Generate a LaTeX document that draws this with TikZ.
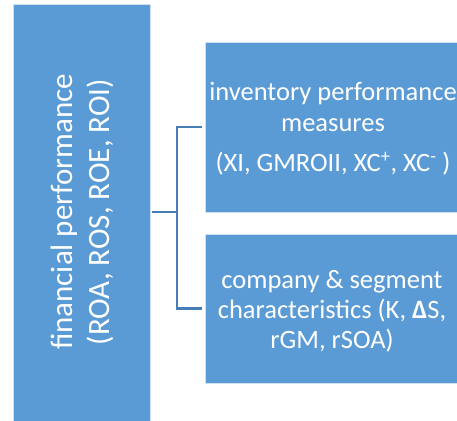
\documentclass[tikz,border=0pt]{standalone}
\usepackage{fontspec}
\setmainfont{Carlito}
\definecolor{boxblue}{HTML}{5B9BD5}
\definecolor{linkblue}{RGB}{70,125,180}
\begin{document}
\begin{tikzpicture}[x=1pt,y=-1pt,
  box/.style={rectangle, fill=boxblue, draw=white!70!boxblue, line width=0.6pt, inner sep=0pt},
  txt/.style={text=white, align=center, inner sep=0pt},
  conn/.style={draw=linkblue, line width=2.4pt}]
\useasboundingbox (0,0) rectangle (457,420);
\node[box, minimum width=137pt, minimum height=418pt] (left) at (81.5,213) {};
\node[box, minimum width=254pt, minimum height=170pt] (top) at (332,127) {};
\node[box, minimum width=254pt, minimum height=149pt] (bot) at (332,308.5) {};
\node[txt, rotate=90, font=\fontsize{31}{37}\selectfont] (lefttxt) at (82,212)
  {financial performance\\(ROA, ROS, ROE, ROI)};
\node[txt, font=\fontsize{26.5}{31}\selectfont] (toptxt) at (333,129)
  {inventory performance\\measures\\[9pt](XI, GMROII, XC\textsuperscript{+}, XC\textsuperscript{-} )};
\node[txt, font=\fontsize{26.5}{30}\selectfont] (bottxt) at (332,311)
  {company \& segment\\characteristics (K, \textbf{Δ}S,\\rGM, rSOA)};
\coordinate (j) at (177,212);
\draw[conn, shorten <=2pt] (left.east |- j) -- (j);
\draw[conn, shorten <=3pt, shorten >=3pt] (top.west) -| (j) |- (bot.west);
\end{tikzpicture}
\end{document}
